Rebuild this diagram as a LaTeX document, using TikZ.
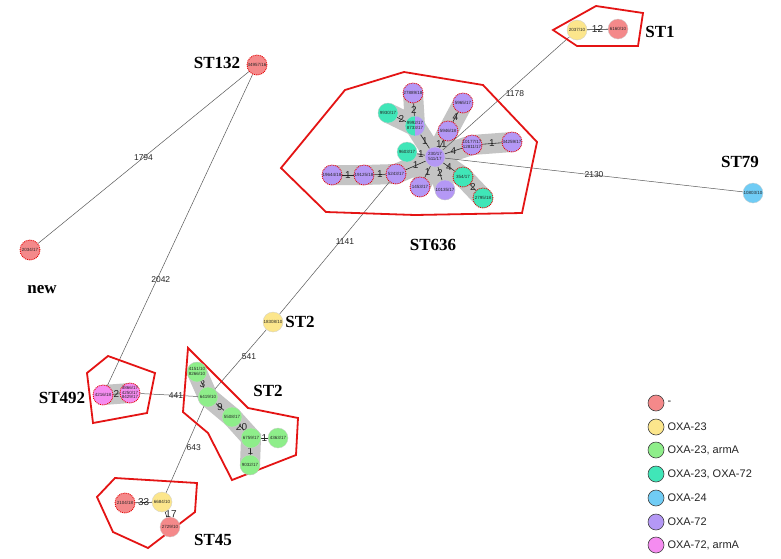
\documentclass[tikz,border=0pt]{standalone}
\usepackage{fontspec}
\setmainfont{Liberation Sans}
\newfontfamily\stfont{Liberation Serif}
\definecolor{cRed}{HTML}{F4898A}
\definecolor{cYel}{HTML}{FCE68C}
\definecolor{cGrn}{HTML}{8EEE8A}
\definecolor{cTeal}{HTML}{40E6B8}
\definecolor{cBlue}{HTML}{70CCF5}
\definecolor{cPurp}{HTML}{B498F5}
\definecolor{cPink}{HTML}{F58CF0}
\definecolor{cBand}{HTML}{C4C4C4}
\definecolor{cPoly}{HTML}{E41414}
\pgfdeclarelayer{bglayer}
\pgfdeclarelayer{bandlayer}
\pgfdeclarelayer{edgelayer}
\pgfsetlayers{bglayer,bandlayer,edgelayer,main}
\newcommand\zt[1]{\makebox[0pt]{#1}}
\newcommand\zs[1]{\makebox[0pt]{\renewcommand\arraystretch{0.75}\begin{tabular}{@{}c@{}}#1\end{tabular}}}
\begin{document}
\begin{tikzpicture}[x=1pt,y=-1pt,
  nd/.style={circle,minimum size=20pt,inner sep=0pt,font=\fontsize{4.5}{5.5}\selectfont,text=black!85},
  rd/.style={draw=red!90!black,densely dotted,line width=0.9pt},
  pl/.style={draw=black!20,line width=0.3pt},
  band/.style={draw=cBand,line width=20pt,line cap=round},
  ledge/.style={draw=black!65,line width=0.5pt},
  iedge/.style={draw=black!85,line width=0.6pt},
  llab/.style={font=\fontsize{8.5}{9}\selectfont,inner sep=0.5pt,text=black!85},
  ilab/.style={font=\fontsize{10}{10}\selectfont,inner sep=0.5pt,text=black!85},
  poly/.style={draw=cPoly,line width=1.8pt,line join=miter},
  stlab/.style={font=\stfont\bfseries\fontsize{17}{17}\selectfont,inner sep=0pt},
  leg/.style={circle,minimum size=16pt,inner sep=0pt,draw=black!75,line width=0.6pt},
  legt/.style={anchor=west,font=\fontsize{11}{12}\selectfont,inner sep=0pt,text=black!85}
]
\begin{pgfonlayer}{bglayer}
\fill[white] (0,0) rectangle (781,558);
\end{pgfonlayer}
\useasboundingbox (0,0) rectangle (781,558);

% ---------- polygons ----------
\draw[poly] (553,30) -- (596,6) -- (643,13) -- (638,46) -- (577,46) -- cycle;
\draw[poly] (281,168) -- (345,90) -- (404,72) -- (483,85) -- (537,142) -- (522,213) -- (415,215) -- (326,212) -- cycle;
\draw[poly] (87,373) -- (108,356) -- (155,373) -- (147,413) -- (93,423) -- cycle;
\draw[poly] (188,348) -- (248,408) -- (298,418) -- (296,455) -- (232,480) -- (208,433) -- (183,412) -- cycle;
\draw[poly] (97,497) -- (115,478) -- (197,483) -- (195,512) -- (148,548) -- (113,532) -- cycle;

% ---------- nodes ----------
% ST1
\node[nd,pl,fill=cYel] (n2037) at (577,30) {\zt{2037/10}};
\node[nd,pl,fill=cRed] (n6160) at (618,29) {\zt{6160/10}};
% ST132, new
\node[nd,rd,fill=cRed] (n34957) at (257,65) {\zt{34957/16}};
\node[nd,rd,fill=cRed] (n2034) at (30,250) {\zt{2034/17}};
% ST636
\node[nd,pl,fill=cPurp] (c230) at (435,157) {\zs{230/17\\511/17}};
\node[nd,rd,fill=cPurp] (n27889) at (413,93) {\zt{27889/18}};
\node[nd,pl,fill=cTeal] (n9930) at (388,113) {\zt{9930/17}};
\node[nd,pl,fill=cTeal,path picture={\fill[cPurp] (path picture bounding box.north) rectangle (path picture bounding box.south east);}] (n9992) at (415,126) {\zs{9992/17\\8733/17}};
\node[nd,rd,fill=cPurp] (n5965) at (463,103) {\zt{5965/17}};
\node[nd,rd,fill=cPurp] (n5946) at (448,131) {\zt{5946/18}};
\node[nd,pl,fill=cTeal] (n9603) at (407,152) {\zt{9603/17}};
\node[nd,rd,fill=cPurp] (n10177) at (472,145) {\zs{10177/17\\12811/17}};
\node[nd,rd,fill=cPurp] (n34259) at (512,142) {\zt{34259/17}};
\node[nd,rd,fill=cPurp] (n5243) at (396,174) {\zt{5243/17}};
\node[nd,rd,fill=cPurp] (n19125) at (364,175) {\zt{19125/18}};
\node[nd,rd,fill=cPurp] (n19644) at (332,175) {\zt{19644/18}};
\node[nd,rd,fill=cPurp] (n1453) at (420,187) {\zt{1453/17}};
\node[nd,pl,fill=cPurp] (n10135) at (445,190) {\zt{10135/17}};
\node[nd,rd,fill=cTeal] (n354) at (463,177) {\zt{354/17}};
\node[nd,rd,fill=cTeal] (n2795) at (483,198) {\zt{2795/18}};
% ST79
\node[nd,pl,fill=cBlue] (n10803) at (753,193) {\zt{10803/10}};
% ST2 upper
\node[nd,pl,fill=cYel] (n18308) at (273,322) {\zt{18308/10}};
% ST492
\node[nd,rd,fill=cPink] (n4216) at (103,395) {\zt{4216/18}};
\node[nd,rd,fill=cPink] (n3866) at (130,393) {\zs{3866/17\\4250/17\\8429/17}};
% ST2 lower
\node[nd,pl,fill=cGrn] (n4151) at (197,372) {\zs{4151/10\\8266/10}};
\node[nd,pl,fill=cGrn] (n6419) at (208,397) {\zt{6419/10}};
\node[nd,pl,fill=cGrn] (n5508) at (232,417) {\zt{5508/17}};
\node[nd,pl,fill=cGrn] (n6759) at (251,438) {\zt{6759/17}};
\node[nd,pl,fill=cGrn] (n4363) at (278,438) {\zt{4363/17}};
\node[nd,pl,fill=cGrn] (n9032) at (250,465) {\zt{9032/17}};
% ST45
\node[nd,rd,fill=cRed] (n2104) at (125,503) {\zt{2104/18}};
\node[nd,pl,fill=cYel] (n6684) at (162,502) {\zt{6684/10}};
\node[nd,pl,fill=cRed] (n2729) at (170,527) {\zt{2729/10}};

% ---------- bands ----------
\begin{pgfonlayer}{bandlayer}
\draw[band] (c230.center) -- (n5243.center) -- (n19125.center) -- (n19644.center);
\draw[band] (c230.center) -- (n9992.center) -- (n27889.center);
\draw[band] (n9930.center) -- (n9992.center);
\draw[band] (c230.center) -- (n5946.center) -- (n5965.center);
\draw[band] (c230.center) -- (n10177.center) -- (n34259.center);
\draw[band] (c230.center) -- (n354.center) -- (n2795.center);
\draw[band] (c230.center) -- (n1453.center);
\draw[band] (c230.center) -- (n10135.center);
\draw[band] (n4216.center) -- (n3866.center);
\draw[band] (n4151.center) -- (n6419.center) -- (n5508.center) -- (n6759.center) -- (n9032.center);
\end{pgfonlayer}

% ---------- edges ----------
\begin{pgfonlayer}{edgelayer}
\draw[ledge] (n2037) -- node[llab,pos=0.5,xshift=9pt]{1178} (c230);
\draw[ledge] (c230) -- node[llab,pos=0.5]{2130} (n10803);
\draw[ledge] (n34957) -- node[llab,pos=0.5]{1794} (n2034);
\draw[ledge] (n34957) -- node[llab,pos=0.66,xshift=4pt]{2042} (n4216);
\draw[ledge] (n18308) -- node[llab,pos=0.55,xshift=5pt]{1141} (n5243);
\draw[ledge] (n18308) -- node[llab,pos=0.45,xshift=6pt]{541} (n6419);
\draw[ledge] (n3866) -- node[llab,pos=0.62]{441} (n6419);
\draw[ledge] (n6419) -- node[llab,pos=0.48,xshift=8pt]{643} (n6684);
% ST1
\draw[iedge] (n2037) -- node[ilab]{12} (n6160);
% ST636
\draw[iedge] (c230) -- node[ilab]{1} (n9992);
\draw[iedge] (n9992) -- node[ilab]{2} (n27889);
\draw[iedge] (n9992) -- node[ilab]{2} (n9930);
\draw[iedge] (c230) -- node[ilab]{1} (n9603);
\draw[iedge] (c230) -- node[ilab]{11} (n5946);
\draw[iedge] (n5946) -- node[ilab]{4} (n5965);
\draw[iedge] (c230) -- node[ilab]{4} (n10177);
\draw[iedge] (n10177) -- node[ilab]{1} (n34259);
\draw[iedge] (c230) -- node[ilab]{1} (n5243);
\draw[iedge] (n5243) -- node[ilab]{1} (n19125);
\draw[iedge] (n19125) -- node[ilab]{1} (n19644);
\draw[iedge] (c230) -- node[ilab]{1} (n1453);
\draw[iedge] (c230) -- node[ilab]{2} (n10135);
\draw[iedge] (c230) -- node[ilab]{4} (n354);
\draw[iedge] (n354) -- node[ilab]{2} (n2795);
% ST492
\draw[iedge] (n4216) -- node[ilab]{2} (n3866);
% ST2
\draw[iedge] (n4151) -- node[ilab]{3} (n6419);
\draw[iedge] (n6419) -- node[ilab]{9} (n5508);
\draw[iedge] (n5508) -- node[ilab]{20} (n6759);
\draw[iedge] (n6759) -- node[ilab]{1} (n4363);
\draw[iedge] (n6759) -- node[ilab]{1} (n9032);
% ST45
\draw[iedge] (n2104) -- node[ilab]{33} (n6684);
\draw[iedge] (n6684) -- node[ilab,xshift=5pt]{17} (n2729);
\end{pgfonlayer}

% ---------- cluster labels ----------
\node[stlab] (lST1) at (660,32) {ST1};
\node[stlab] (lST132) at (217,63) {ST132};
\node[stlab] (lnew) at (42,290) {new};
\node[stlab] (lST79) at (740,162) {ST79};
\node[stlab] (lST636) at (433,245) {ST636};
\node[stlab] (lST2a) at (300,322) {ST2};
\node[stlab] (lST2b) at (268,391) {ST2};
\node[stlab] (lST492) at (62,398) {ST492};
\node[stlab] (lST45) at (213,540) {ST45};

% ---------- legend ----------
\node[leg,fill=cRed]  (g1) at (656,403) {};
\node[leg,fill=cYel]  (g2) at (656,427) {};
\node[leg,fill=cGrn]  (g3) at (656,450) {};
\node[leg,fill=cTeal] (g4) at (656,474) {};
\node[leg,fill=cBlue] (g5) at (656,498) {};
\node[leg,fill=cPurp] (g6) at (656,522) {};
\node[leg,fill=cPink] (g7) at (656,545) {};
\node[legt] (t1) at ([xshift=3pt]g1.east) {-};
\node[legt] (t2) at ([xshift=3pt]g2.east) {OXA-23};
\node[legt] (t3) at ([xshift=3pt]g3.east) {OXA-23, armA};
\node[legt] (t4) at ([xshift=3pt]g4.east) {OXA-23, OXA-72};
\node[legt] (t5) at ([xshift=3pt]g5.east) {OXA-24};
\node[legt] (t6) at ([xshift=3pt]g6.east) {OXA-72};
\node[legt] (t7) at ([xshift=3pt]g7.east) {OXA-72, armA};
\end{tikzpicture}
\end{document}
